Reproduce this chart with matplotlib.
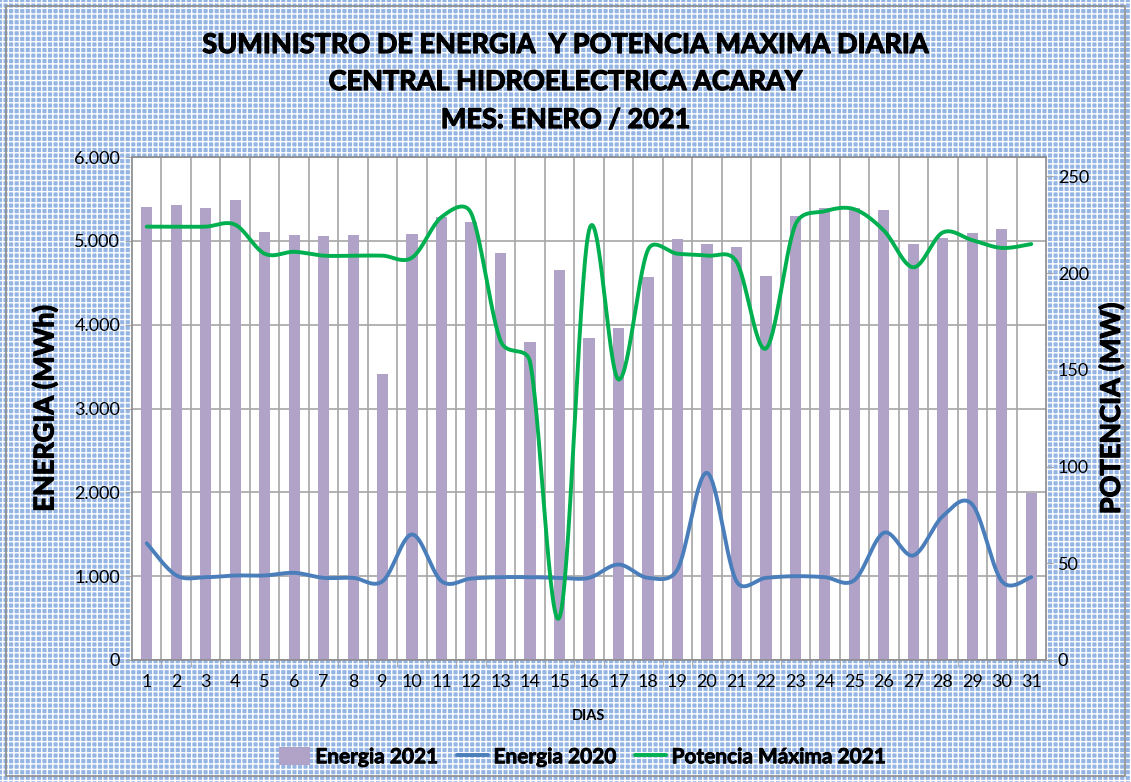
import numpy as np
import matplotlib
matplotlib.use("Agg")
import matplotlib.pyplot as plt
import matplotlib.patheffects as pe
from matplotlib.patches import Rectangle
from matplotlib.ticker import FuncFormatter, MultipleLocator, FixedLocator

# data
dias = list(range(1, 32))
energia_2021 = [5407, 5428, 5388, 5487, 5105, 5066, 5058, 5074, 3416, 5082,
                5281, 5221, 4851, 3793, 4648, 3837, 3960, 4573, 5022, 4966,
                4922, 4580, 5296, 5388, 5388, 5372, 4966, 5030, 5097, 5145, 1990]
energia_2020 = [1392, 1010, 988, 1008, 1008, 1040, 980, 980, 940, 1497,
                940, 972, 988, 988, 980, 980, 1139, 980, 1080, 2232,
                940, 980, 1000, 988, 952, 1517, 1247, 1716, 1855, 940, 988]
potencia_2021 = [224, 224, 224, 225, 210, 211, 209, 209, 209, 208,
                 229, 231, 165, 154, 22, 222, 145, 212, 210, 209,
                 206, 161, 225, 232, 233, 222, 203, 221, 217, 213, 215]

BAR_C = "#b1a2c8"
BLUE_C = "#4a7ebb"
GREEN_C = "#00b050"
GRID_C = "#a6a6a6"


def smooth(x, y, sx, sy, n=30):
    # excel-like smoothed line: catmull-rom bezier, arms capped to half the segment (screen px)
    P = np.column_stack([np.asarray(x, float) * sx, np.asarray(y, float) * sy])
    Q = np.vstack([P[0], P, P[-1]])
    out = []
    t = np.linspace(0, 1, n, endpoint=False)[:, None]
    for i in range(1, len(Q) - 2):
        p0, p1, p2, p3 = Q[i - 1], Q[i], Q[i + 1], Q[i + 2]
        d = np.linalg.norm(p2 - p1)
        a1 = (p2 - p0) / 6
        a2 = (p3 - p1) / 6
        for a in (a1, a2):
            la = np.linalg.norm(a)
            if la > 0.5 * d:
                a *= 0.5 * d / la
        c1 = p1 + a1
        c2 = p2 - a2
        b = (1 - t) ** 3 * p1 + 3 * (1 - t) ** 2 * t * c1 + 3 * (1 - t) * t ** 2 * c2 + t ** 3 * p2
        out.append(b)
    out.append(P[-1:])
    out = np.vstack(out)
    return out[:, 0] / sx, out[:, 1] / sy


plt.rcParams['font.family'] = ['Lato', 'DejaVu Sans']
plt.rcParams['hatch.linewidth'] = 1.0
plt.rcParams['hatch.color'] = 'white'
heavy = [pe.withStroke(linewidth=0.9, foreground='black')]

fig = plt.figure(figsize=(11.31, 7.82), dpi=100)
fig.patch.set_facecolor('#94b5e4')
bg = Rectangle((0, 0), 1, 1, transform=fig.transFigure, facecolor='none',
               edgecolor='white', hatch='+++', lw=0, zorder=-10)
fig.patches.append(bg)
frame = Rectangle((6 / 1131, 6 / 782), 1119 / 1131, 770 / 782, transform=fig.transFigure,
                  facecolor='none', edgecolor='#8c8c8c', lw=1.2, zorder=-5)
fig.patches.append(frame)

ax = fig.add_axes([132 / 1131, 122 / 782, 914 / 1131, 503 / 782])
ax.set_facecolor('white')
pos = np.arange(len(dias))
px_x = 914 / len(dias)
bars = ax.bar(pos, energia_2021, width=0.38, color=BAR_C, zorder=2, label='Energia 2021')
bx, by = smooth(pos, energia_2020, px_x, 503 / 6000)
blue, = ax.plot(bx, by, color=BLUE_C, lw=2.8, zorder=3, label='Energia 2020',
                solid_capstyle='round')

ax.set_xlim(-0.5, len(dias) - 0.5)
ax.set_ylim(0, 6000)
ax.yaxis.set_major_locator(MultipleLocator(1000))
ax.yaxis.set_major_formatter(FuncFormatter(lambda v, p: f"{int(v):,}".replace(",", ".")))
ax.set_xticks(pos)
ax.set_xticklabels([str(d) for d in dias])
ax.xaxis.set_minor_locator(FixedLocator(pos[:-1] + 0.5))
ax.tick_params(axis='x', which='major', length=0, labelsize=13, pad=10)
ax.tick_params(axis='x', which='minor', length=5, color=GRID_C)
ax.tick_params(axis='y', which='major', length=5, color=GRID_C, labelsize=13)
ax.grid(True, axis='y', which='major', color=GRID_C, lw=1.2, zorder=0)
ax.grid(True, axis='x', which='minor', color=GRID_C, lw=1.2, zorder=0)
ax.set_axisbelow(True)
for s in ax.spines.values():
    s.set_color('#8c8c8c')
    s.set_linewidth(1.2)

ax2 = ax.twinx()
gx, gy = smooth(pos, potencia_2021, px_x, 503 / 260)
green, = ax2.plot(gx, gy, color=GREEN_C, lw=2.8, zorder=4, label='Potencia Máxima 2021',
                  solid_capstyle='round')
ax2.set_ylim(0, 260)
ax2.yaxis.set_major_locator(MultipleLocator(50))
ax2.tick_params(axis='y', length=5, color=GRID_C, labelsize=13)
for s in ax2.spines.values():
    s.set_visible(False)

ax.set_ylabel('ENERGIA (MWh)', fontsize=19.5, fontweight='bold', labelpad=12, path_effects=heavy)
ax2.set_ylabel('POTENCIA (MW)', fontsize=19.5, fontweight='bold', labelpad=7, path_effects=heavy)
ax.set_xlabel('DIAS', fontsize=10.5, fontweight='bold', labelpad=14)

for txt, yy in [('SUMINISTRO DE ENERGIA  Y POTENCIA MAXIMA DIARIA', 45),
                ('CENTRAL HIDROELECTRICA ACARAY', 82),
                ('MES: ENERO / 2021', 120)]:
    fig.text(0.5, 1 - yy / 782, txt, ha='center', va='center',
             fontsize=19.5, fontweight='bold', path_effects=heavy)

leg = fig.legend([bars, blue, green], ['Energia 2021', 'Energia 2020', 'Potencia Máxima 2021'],
                 loc='center', bbox_to_anchor=(0.515, 1 - 757 / 782),
                 ncol=3, frameon=False, prop={'weight': 'bold', 'size': 15},
                 handlelength=1.5, handleheight=1.0, handletextpad=0.25, columnspacing=0.9)
for t in leg.get_texts():
    t.set_path_effects([pe.withStroke(linewidth=0.6, foreground='black')])

fig.savefig('out.png', dpi=100, facecolor=fig.get_facecolor())
